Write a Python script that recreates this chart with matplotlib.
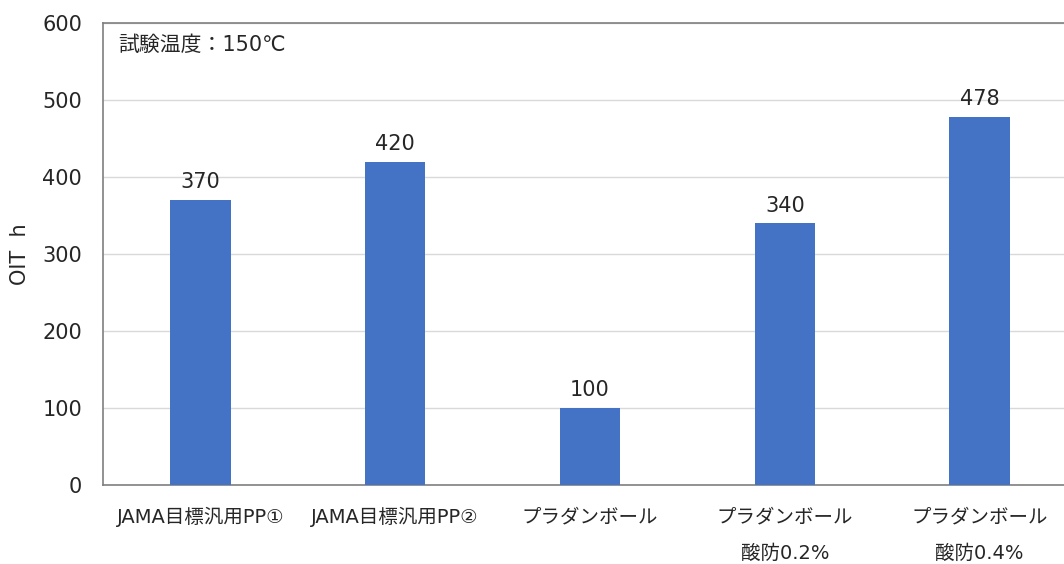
import matplotlib
matplotlib.use("Agg")
import matplotlib.pyplot as plt

plt.rcParams['font.family'] = ['DejaVu Sans', 'Noto Sans CJK JP']

categories = ["JAMA目標汎用PP①", "JAMA目標汎用PP②", "プラダンボール",
              "プラダンボール\n酸防0.2%", "プラダンボール\n酸防0.4%"]
values = [370, 420, 100, 340, 478]
yticks = [0, 100, 200, 300, 400, 500, 600]

fig = plt.figure(figsize=(10.64, 5.64), dpi=100)
ax = fig.add_axes([103/1064, 79/564, 974/1064, 462/564])

x = list(range(len(categories)))
bars = ax.bar(x, values, width=0.31, color="#4472C4", zorder=3)
for xi, v in zip(x, values):
    ax.text(xi, v + 10, str(v), ha="center", va="bottom", fontsize=15, color="#262626")

ax.set_xlim(-0.5, 4.5)
ax.set_ylim(0, 600)
ax.set_yticks(yticks)
ax.set_yticklabels([str(t) for t in yticks], fontsize=15, color="#262626")
ax.set_xticks(x)
ax.set_xticklabels(categories, fontsize=14, color="#262626", linespacing=2.2, va="top")
ax.tick_params(axis="both", length=0)
ax.tick_params(axis="y", pad=15)
ax.tick_params(axis="x", pad=16)
ax.grid(axis="y", color="#D9D9D9", linewidth=1, zorder=0)
for s in ["left", "top", "bottom"]:
    ax.spines[s].set_color("#7F7F7F")
    ax.spines[s].set_linewidth(1.2)
ax.spines["right"].set_visible(False)

ax.set_ylabel("OIT  h", fontsize=15, color="#262626")
ax.yaxis.set_label_coords(-0.075, 0.5)
ax.text(118/1064, 1 - 45/564, "試験温度：150℃", transform=fig.transFigure,
        fontsize=15, color="#262626", va="center", ha="left")

fig.savefig("out.png", dpi=100)
